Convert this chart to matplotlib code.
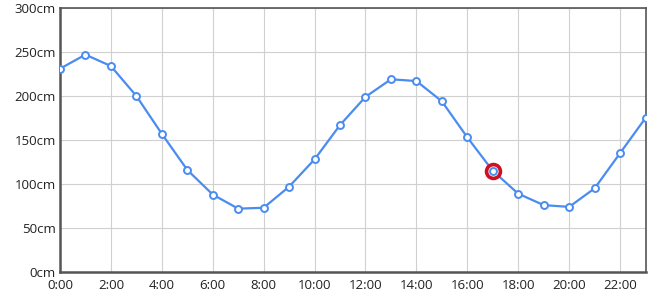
import matplotlib
matplotlib.use("Agg")
import matplotlib.pyplot as plt

# hourly tide heights (cm)
hours = list(range(24))
tide_cm = [231, 247, 234, 200, 157, 116, 88, 72, 73, 97, 128, 167,
           199, 219, 217, 194, 153, 115, 89, 76, 74, 95, 135, 175]
hour_labels = [f"{h}:00" for h in range(0, 24, 2)]
y_ticks = [0, 50, 100, 150, 200, 250, 300]
current_hour = 17

plt.rcParams['font.family'] = ['Open Sans', 'DejaVu Sans']

fig = plt.figure(figsize=(6.6, 2.96), dpi=100)
ax = fig.add_axes([60 / 660, 24 / 296, 585.5 / 660, 264 / 296])

blue = '#4a8cf0'
ax.plot(hours, tide_cm, color=blue, linewidth=1.6, marker='o', markersize=5,
        markerfacecolor='white', markeredgecolor=blue, markeredgewidth=1.4, zorder=3)

# highlighted "now" point
ax.plot([current_hour], [tide_cm[current_hour]], marker='o', markersize=10,
        markerfacecolor='white', markeredgecolor='#cc1122', markeredgewidth=2.6,
        linestyle='none', zorder=4)
ax.plot([current_hour], [tide_cm[current_hour]], marker='o', markersize=5,
        markerfacecolor='white', markeredgecolor=blue, markeredgewidth=1.4,
        linestyle='none', zorder=5)

ax.set_xlim(0, 23)
ax.set_ylim(0, 300)
ax.set_xticks(range(0, 24, 2))
ax.set_xticklabels(hour_labels)
ax.set_yticks(y_ticks)
ax.set_yticklabels([f"{v}cm" for v in y_ticks])
ax.tick_params(length=0, labelsize=9.5, colors='#222222')
ax.tick_params(axis='y', pad=3)
ax.tick_params(axis='x', pad=5)

ax.grid(True, color='#d0d0d0', linewidth=0.8)
ax.set_axisbelow(True)

for side in ['left', 'bottom']:
    ax.spines[side].set_color('#555555')
    ax.spines[side].set_linewidth(1.8)
for side in ['top', 'right']:
    ax.spines[side].set_color('#555555')
    ax.spines[side].set_linewidth(1.2)

fig.savefig('out.png', dpi=100)
